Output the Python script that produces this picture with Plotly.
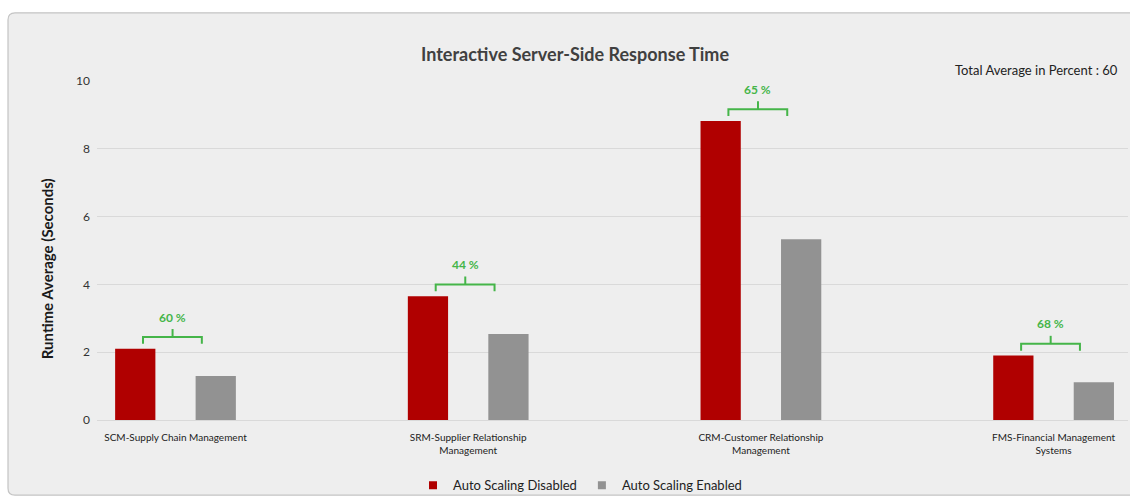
import plotly.graph_objects as go

categories = ["SCM-Supply Chain Management",
              "SRM-Supplier Relationship<br>Management",
              "CRM-Customer Relationship<br>Management",
              "FMS-Financial Management<br>Systems"]
series_names = ["Auto Scaling Disabled", "Auto Scaling Enabled"]
disabled = [2.1, 3.65, 8.82, 1.9]
enabled = [1.3, 2.54, 5.33, 1.11]
percent_labels = ["60 %", "44 %", "65 %", "68 %"]
total_avg_text = "Total Average in Percent : 60"

RED, GRAY, GREEN = "#b00000", "#929292", "#45b549"
FONT = "Lato"
W, H = 1130, 502
L, R, T, B = 97, 1128, 81, 424  # plot area in px
PXU = (B - T) / 10.0  # px per y unit
CAT_PX = 292.7
XMIN = -(175.5 - L) / CAT_PX
XMAX = XMIN + (R - L) / CAT_PX


def px_x(p):
    return (p - L) / (R - L)


def px_y(p):
    return (B - p) / (B - T)


fig = go.Figure()
fig.add_trace(go.Bar(x=list(range(4)), y=disabled, name=series_names[0], showlegend=False,
                     marker=dict(color=RED, line=dict(width=0))))
fig.add_trace(go.Bar(x=list(range(4)), y=enabled, name=series_names[1], showlegend=False,
                     marker=dict(color=GRAY, line=dict(width=0))))
# legend entries with small square swatches
for nm, col in zip(series_names, [RED, GRAY]):
    fig.add_trace(go.Scatter(x=[None], y=[None], mode="markers", name=nm,
                             marker=dict(symbol="square", size=8, color=col)))

# brackets built from the data values
bx, by = [], []
for i, v in enumerate(disabled):
    lft, rgt, ctr = i - 0.111, i + 0.09, i - 0.01
    base = v + 5 / PXU
    line = v + 12 / PXU
    top = v + 20 / PXU
    bx += [lft, lft, rgt, rgt, None, ctr, ctr, None]
    by += [base, line, line, base, None, line, top, None]
    fig.add_annotation(x=ctr, y=v + 32 / PXU, text="<b>" + percent_labels[i] + "</b>",
                       showarrow=False,
                       font=dict(family=FONT, size=12, color=GREEN),
                       xanchor="center", yanchor="middle")
fig.add_trace(go.Scatter(x=bx, y=by, mode="lines", line=dict(color=GREEN, width=2),
                         showlegend=False, hoverinfo="skip"))

# card background
x0, x1 = px_x(8), px_x(1140)
y0, y1 = px_y(500), px_y(12)
rx, ry = 7 / (R - L), 7 / (B - T)
path = (f"M {x0+rx},{y1} L {x1-rx},{y1} Q {x1},{y1} {x1},{y1-ry} L {x1},{y0+ry} "
        f"Q {x1},{y0} {x1-rx},{y0} L {x0+rx},{y0} Q {x0},{y0} {x0},{y0+ry} "
        f"L {x0},{y1-ry} Q {x0},{y1} {x0+rx},{y1} Z")
fig.add_shape(type="path", path=path, xref="paper", yref="paper", layer="below",
              fillcolor="#eeeeee", line=dict(color="#c4c4c4", width=1.2))

fig.add_annotation(x=px_x(575), y=px_y(54), xref="paper", yref="paper",
                   text="<b>Interactive Server-Side Response Time</b>", showarrow=False,
                   font=dict(family=FONT, size=18, color="#404040"),
                   xanchor="center", yanchor="middle")
fig.add_annotation(x=px_x(1120), y=px_y(70), xref="paper", yref="paper",
                   text=total_avg_text, showarrow=False,
                   font=dict(family=FONT, size=13, color="#222222"),
                   xanchor="right", yanchor="middle")
fig.add_annotation(x=px_x(47), y=px_y(271.5), xref="paper", yref="paper",
                   text="<b>Runtime Average (Seconds)</b>", showarrow=False, textangle=-90,
                   font=dict(family=FONT, size=15, color="#1a1a1a"),
                   xanchor="center", yanchor="middle")

fig.update_layout(
    width=W, height=H,
    margin=dict(l=L, r=W - R, t=T, b=H - B),
    paper_bgcolor="white", plot_bgcolor="rgba(0,0,0,0)",
    barmode="group", bargap=0.45, bargroupgap=0.5,
    font=dict(family=FONT, color="#333333"),
    legend=dict(orientation="h", x=px_x(580), y=px_y(490), xanchor="center", yanchor="middle",
                font=dict(family=FONT, size=13, color="#222222"), bgcolor="rgba(0,0,0,0)",
                itemwidth=30, traceorder="normal"),
    xaxis=dict(tickmode="array", tickvals=list(range(4)), ticktext=categories,
               range=[XMIN, XMAX], showgrid=False, zeroline=False, showline=False,
               tickfont=dict(family=FONT, size=10, color="#222222"), tickangle=0,
               ticklabelstandoff=10),
    yaxis=dict(range=[0, 10], dtick=2, showgrid=True, gridcolor="#d9d9d9", gridwidth=1,
               zeroline=True, zerolinecolor="#d9d9d9", zerolinewidth=1, showline=False,
               tickfont=dict(family=FONT, size=12, color="#333333"), ticklabelstandoff=6),
)

fig.write_html("out.html")
